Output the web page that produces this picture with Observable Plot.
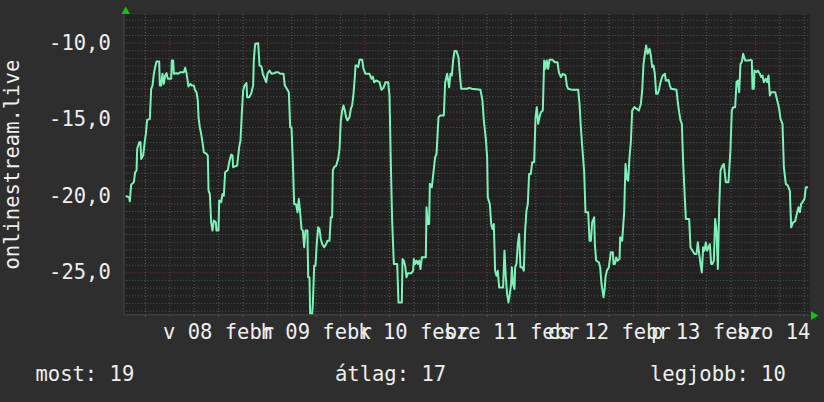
<!DOCTYPE html>
<html><head><meta charset="utf-8">
<script src="https://cdn.jsdelivr.net/npm/d3@7"></script>
<script src="https://cdn.jsdelivr.net/npm/@observablehq/plot@0.6"></script>
<style>
html,body{margin:0;padding:0;background:#2e2e2e;overflow:hidden;}
</style></head><body><div id="chart"></div>
<script>
// hours since 2015-02-08 00:00 and temperature readings
const hours = [-10.65,-9.99,-9.83,-9.50,-8.84,-8.51,-8.18,-8.02,-7.53,-7.20,-7.04,-6.55,-6.22,-5.89,-5.57,-4.91,-4.58,-4.25,-3.92,-3.60,-3.27,-2.61,-2.45,-2.13,-1.80,-1.47,-1.14,-0.81,-0.48,0.34,0.50,0.83,0.99,1.65,1.97,2.63,3.45,3.78,4.11,4.43,4.60,5.09,5.42,5.91,6.24,6.56,6.89,7.06,7.38,7.71,8.04,8.37,9.02,9.35,9.52,9.84,10.17,10.50,10.83,11.32,11.48,11.97,12.14,12.63,12.96,13.28,13.61,14.27,14.60,15.09,15.42,15.58,16.56,17.05,17.38,17.71,18.04,18.36,18.85,19.02,19.51,20.00,20.49,20.66,20.99,21.73,22.06,22.55,22.87,23.36,23.70,24.02,24.52,25.01,25.66,26.16,26.65,27.14,27.96,28.28,28.78,29.27,29.60,29.92,30.25,30.58,31.07,31.40,31.72,32.05,32.38,32.71,33.04,33.36,33.85,34.02,34.35,34.51,35.00,35.17,35.50,35.82,36.15,36.48,36.81,37.13,37.46,37.96,38.45,38.77,39.27,39.59,39.92,40.09,40.41,40.91,41.40,41.73,42.05,42.38,42.71,43.04,43.36,43.69,44.18,44.51,44.84,45.17,45.49,45.66,45.99,46.31,46.64,47.30,47.63,48.12,49.10,49.60,49.92,50.25,50.74,51.56,52.05,52.54,53.03,53.69,54.02,54.35,54.67,55.09,55.91,56.23,57.05,57.22,57.54,57.87,58.20,58.53,59.35,59.84,60.00,60.33,60.66,60.98,61.31,61.64,61.97,62.95,63.12,63.44,63.77,63.94,64.43,64.92,65.25,65.58,66.07,66.40,67.38,67.71,68.20,68.69,69.02,69.35,69.67,70.00,70.49,70.98,71.31,71.64,73.11,73.61,74.26,76.39,76.88,77.21,77.70,78.03,78.19,78.68,79.02,79.34,79.67,79.99,80.32,80.65,80.98,81.96,82.29,82.62,82.94,83.27,83.60,83.93,84.09,84.42,84.75,84.91,85.24,85.57,85.89,86.22,86.71,87.04,87.37,87.70,88.03,88.35,88.77,89.10,89.59,89.92,90.24,90.57,90.90,91.23,91.72,92.05,92.38,92.70,93.03,93.36,94.02,94.67,95.33,95.66,96.15,96.64,97.30,97.62,97.95,98.94,100.41,100.74,101.07,101.39,101.89,102.21,102.87,103.20,103.53,103.85,104.35,104.51,104.84,105.49,105.82,106.15,106.64,106.97,107.13,107.46,107.95,108.44,108.94,109.10,109.43,109.76,110.08,110.58,110.74,111.23,111.72,112.05,112.38,112.71,113.03,113.36,113.69,114.18,114.84,115.33,115.82,116.15,116.48,116.81,117.13,117.46,117.95,118.28,118.61,118.94,119.26,119.59,119.92,120.25,120.57,120.90,121.23,121.72,121.97,122.29,122.62,122.95,123.27,124.59,124.91,125.24,125.57,125.90,126.22,126.55,126.88,127.70,128.03,128.52,129.01,129.50,129.83,130.16,130.49,130.81,131.14,131.47,131.80,132.13,132.45,132.78,133.11,133.44,133.77,134.09,134.42,134.75,135.08,135.41,135.90,136.22,136.71,137.37,137.86,138.19,138.52,139.01,139.34,139.66,139.99,140.32,140.65,140.97,141.47,142.45,142.78,143.11,143.27,143.60,143.76,144.26,144.58,145.08,145.41,145.73,146.06,146.55,146.88,147.21,147.54,147.86,148.85,149.17,149.83,150.16,150.65,150.98,151.47,151.96,152.45,152.78,153.27,153.76,154.26,154.58,154.91,155.24,155.57,156.06,156.39,156.71];
const temps = [-20.0,-20.07,-20.33,-19.24,-19.08,-18.43,-18.32,-16.91,-16.47,-16.47,-17.56,-17.34,-16.58,-15.93,-15.01,-14.95,-12.98,-12.77,-12.00,-11.57,-11.20,-11.20,-12.77,-12.77,-12.00,-12.66,-12.11,-11.96,-12.33,-12.33,-11.13,-11.13,-12.00,-11.96,-12.00,-11.90,-11.90,-11.61,-11.96,-12.55,-12.83,-12.66,-12.77,-12.77,-13.09,-13.20,-13.75,-14.84,-15.49,-15.93,-16.47,-17.12,-17.23,-17.34,-19.63,-19.85,-21.70,-22.24,-21.59,-21.70,-22.24,-22.24,-20.28,-20.39,-19.85,-19.96,-18.43,-18.28,-17.78,-17.28,-17.34,-18.10,-18.00,-16.80,-16.36,-14.62,-13.09,-12.77,-12.61,-13.53,-13.53,-13.31,-12.77,-11.09,-10.04,-10.0,-11.46,-11.53,-12.00,-12.33,-12.55,-12.00,-11.79,-12.00,-11.96,-11.90,-11.90,-12.00,-12.00,-12.77,-12.98,-13.20,-15.49,-15.49,-17.67,-20.50,-20.54,-21.05,-20.17,-21.05,-22.14,-22.24,-23.33,-22.24,-22.24,-25.29,-25.29,-27.70,-27.70,-27.04,-24.53,-24.53,-23.01,-22.03,-22.14,-22.79,-23.12,-23.33,-23.12,-22.90,-22.90,-21.37,-21.37,-18.32,-18.10,-18.00,-17.56,-16.91,-15.05,-14.40,-14.07,-14.40,-14.84,-15.05,-14.84,-14.29,-14.07,-13.31,-12.22,-11.46,-11.46,-11.57,-11.09,-11.09,-11.68,-12.00,-12.00,-12.33,-12.18,-12.55,-12.44,-12.55,-13.05,-12.92,-12.55,-12.55,-13.42,-17.89,-21.59,-24.42,-24.42,-26.93,-26.93,-24.10,-24.20,-24.53,-25.29,-25.03,-25.03,-24.86,-24.10,-24.42,-24.20,-24.42,-24.20,-24.75,-23.99,-23.99,-20.72,-21.81,-21.81,-19.19,-19.41,-18.21,-17.45,-17.23,-14.84,-14.73,-14.73,-12.55,-12.00,-12.88,-12.00,-12.11,-11.13,-10.52,-10.52,-10.92,-12.00,-12.98,-12.98,-12.92,-12.98,-13.05,-13.75,-15.05,-16.25,-17.45,-20.07,-20.50,-21.81,-22.14,-21.81,-24.86,-25.19,-24.86,-25.95,-25.95,-23.55,-25.29,-26.38,-26.93,-26.38,-25.73,-24.64,-25.73,-26.06,-24.64,-24.42,-23.12,-22.46,-24.64,-24.64,-24.86,-22.24,-20.94,-20.50,-18.54,-18.54,-17.78,-17.78,-14.84,-14.18,-15.27,-14.84,-14.51,-14.40,-11.13,-11.68,-11.13,-11.68,-11.09,-11.09,-11.24,-11.24,-11.90,-12.22,-12.00,-12.11,-12.77,-12.98,-13.05,-13.05,-13.97,-15.49,-16.69,-18.43,-21.05,-21.05,-22.90,-22.90,-21.70,-21.37,-23.12,-24.20,-24.31,-24.64,-25.73,-26.60,-25.95,-25.29,-24.86,-24.64,-23.66,-23.66,-24.42,-24.42,-23.99,-24.20,-24.10,-22.68,-22.90,-21.05,-17.89,-18.87,-18.98,-17.45,-16.47,-14.40,-14.18,-14.29,-14.40,-13.97,-13.09,-11.35,-10.70,-10.15,-10.70,-10.37,-10.81,-11.57,-11.46,-12.00,-13.31,-13.31,-13.09,-12.66,-12.33,-12.11,-12.00,-12.44,-12.44,-12.40,-12.77,-12.98,-13.05,-13.86,-14.51,-15.05,-15.27,-17.78,-19.63,-21.48,-21.48,-23.33,-23.55,-23.77,-23.77,-23.01,-23.77,-24.42,-24.97,-23.33,-23.55,-23.01,-23.55,-23.33,-23.12,-24.42,-24.42,-24.20,-21.48,-22.24,-24.75,-20.72,-18.32,-18.00,-17.89,-19.08,-19.08,-16.91,-14.40,-14.18,-14.18,-12.55,-12.44,-13.20,-11.35,-11.24,-10.70,-11.13,-11.13,-11.09,-11.13,-12.98,-12.98,-11.79,-11.90,-11.79,-12.00,-12.22,-12.11,-12.55,-12.33,-12.55,-12.11,-13.42,-13.20,-13.20,-13.53,-14.29,-14.95,-15.27,-18.10,-19.19,-19.30,-19.63,-22.03,-21.70,-21.63,-21.05,-20.72,-21.05,-20.50,-20.39,-20.17,-19.41,-19.41];

const xTickDays = [8, 9, 10, 11, 12, 13, 14];
const xTickLabels = ["v 08 febr", "h 09 febr", "k 10 febr", "sze 11 febr", "cs 12 febr", "p 13 febr", "szo 14 febr"];
const yTicks = [-25, -20, -15, -10];
const yTickLabels = ["-25,0", "-20,0", "-15,0", "-10,0"];
const yTitle = "onlinestream.live";
const legendTexts = ["most: 19", "átlag: 17", "legjobb: 10"];

const t0 = Date.UTC(2015, 1, 8);
const toDate = h => new Date(t0 + h * 3600000);
const data = hours.map((h, i) => ({t: toDate(h), v: temps[i]}));
const xDomain = [toDate(-11.31), toDate(157.29)];
const yDomain = [-27.74, -8.13];
const majorX = d3.range(0, 145, 24).map(toDate);
const minorX = d3.range(-6, 157, 6).filter(h => h % 24 !== 0).map(toDate);
const minorY = d3.range(-27.5, -8.4, 0.5).filter(v => v % 5 !== 0);
const tickBottom = yDomain[0] - 2.5 / 15.31;

const font = "'DejaVu Sans Mono', monospace";
const txt = "#eeeeee";
const chart = Plot.plot({
  width: 824, height: 402,
  marginLeft: 123.3, marginRight: 15, marginTop: 14, marginBottom: 87.7,
  x: {type: "utc", domain: xDomain, axis: null},
  y: {domain: yDomain, axis: null},
  style: {background: "#2e2e2e", color: txt, fontFamily: font, fontSize: "20.5px", overflow: "hidden"},
  marks: [
    Plot.frame({fill: "#212121", stroke: null}),
    Plot.ruleY(minorY, {stroke: "#585858", strokeDasharray: "1,2"}),
    Plot.ruleX(minorX, {stroke: "#585858", strokeDasharray: "1,2"}),
    Plot.ruleY(yTicks, {stroke: "#7e3434", strokeDasharray: "1,2"}),
    Plot.ruleX(majorX, {stroke: "#7e3434", strokeDasharray: "1,2"}),
    Plot.ruleY([yDomain[0]], {stroke: "#3a3a3a", strokeWidth: 2}),
    Plot.ruleX([xDomain[0]], {stroke: "#3a3a3a", strokeWidth: 2}),
    Plot.ruleX(minorX, {y1: yDomain[0], y2: tickBottom, stroke: "#585858"}),
    Plot.ruleX(majorX, {y1: yDomain[0], y2: tickBottom, stroke: "#8a3232"}),
    Plot.line(data, {x: "t", y: "v", stroke: "#7cf2b8", strokeWidth: 2, clip: true}),
    Plot.dot([0], {x: () => toDate(-10.84), y: () => -7.93, symbol: "triangle", r: 3.2, fill: "#00cc00", stroke: null}),
    Plot.dot([0], {x: () => toDate(158.27), y: () => -27.79, symbol: "triangle", r: 3.2, rotate: 90, fill: "#00cc00", stroke: null}),
    Plot.text(yTicks, {y: d => d, text: (d, i) => yTickLabels[i], frameAnchor: "left", textAnchor: "end", dx: -13, fill: txt}),
    Plot.text(xTickDays, {x: d => toDate((d - 8) * 24 + 12), text: (d, i) => xTickLabels[i], frameAnchor: "bottom", lineAnchor: "top", dy: 9.5, fill: txt}),
    Plot.text([yTitle], {text: d => d, frameAnchor: "left", textAnchor: "middle", rotate: -90, dx: -111.4, fill: txt}),
    Plot.text([legendTexts[0]], {text: d => d, frameAnchor: "bottom-left", textAnchor: "start", lineAnchor: "bottom", dx: -88.3, dy: 65.7, fill: txt}),
    Plot.text([legendTexts[1]], {text: d => d, frameAnchor: "bottom-left", textAnchor: "start", lineAnchor: "bottom", dx: 211.2, dy: 65.7, fill: txt}),
    Plot.text([legendTexts[2]], {text: d => d, frameAnchor: "bottom-left", textAnchor: "start", lineAnchor: "bottom", dx: 526.2, dy: 65.7, fill: txt})
  ]
});
document.getElementById("chart").appendChild(chart);
</script></body></html>
